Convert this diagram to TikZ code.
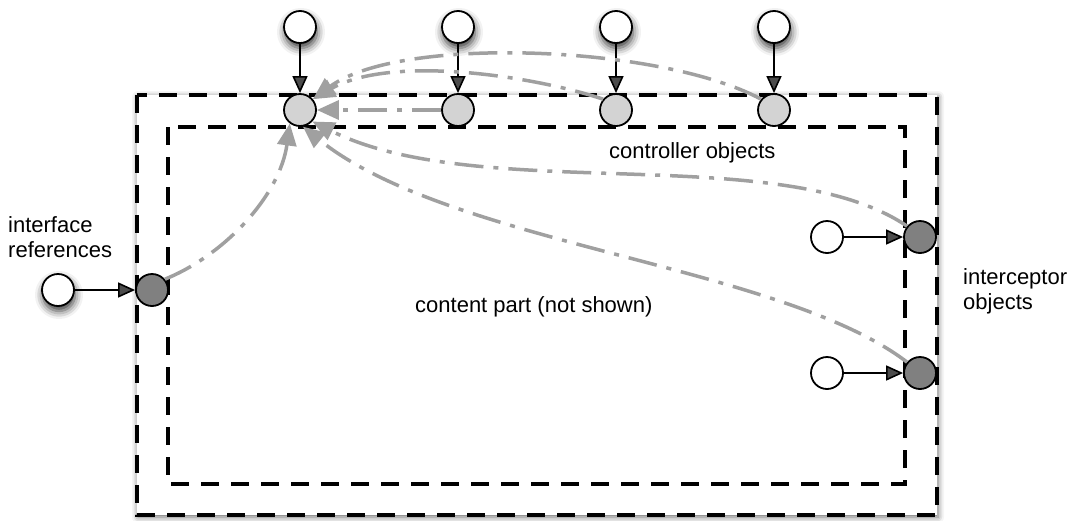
\documentclass[tikz,border=0pt]{standalone}
\usepackage{fontspec}
\setmainfont{Liberation Sans}
\usetikzlibrary{arrows.meta,shadows.blur}
\definecolor{ctrlgray}{RGB}{211,211,211}
\definecolor{icptgray}{RGB}{128,128,128}
\definecolor{linkgray}{RGB}{160,160,160}

\begin{document}
\begin{tikzpicture}[x=1pt,y=-1pt,
  ball/.style={circle,draw=black,line width=1.8pt,minimum size=32pt,inner sep=0pt},
  src/.style={ball,fill=white},
  srcshadow/.style={src,blur shadow={shadow xshift=1pt,shadow yshift=-5pt,shadow blur radius=8pt,shadow opacity=80}},
  ctrl/.style={ball,fill=ctrlgray},
  icpt/.style={ball,fill=icptgray},
  wire/.style={line width=1.6pt,-{Triangle[length=17pt,width=15pt]}},
  link/.style={draw=linkgray,line width=3.5pt,
    dash pattern=on 29pt off 10pt on 5pt off 10pt,
    -{Triangle[length=22pt,width=19pt]}},
  boxline/.style={line width=4pt,dash pattern=on 18pt off 12pt},
  lbl/.style={font=\fontsize{22}{25}\selectfont,inner sep=0pt}
]
\useasboundingbox (0,0) rectangle (1073,520);

% membrane: shadowed outer boundary and inner boundary
\path[fill=white,blur shadow={shadow xshift=1pt,shadow yshift=-2pt,shadow blur radius=6pt,shadow opacity=60}]
  (137,95) rectangle (937,515);
\draw[boxline] (137,95) rectangle (937,515);
\draw[boxline] (168,127) rectangle (905,484);

% controller objects and their external bindings
\node[srcshadow] (t1) at (300,27) {};
\node[srcshadow] (t2) at (458,27) {};
\node[srcshadow] (t3) at (616,27) {};
\node[srcshadow] (t4) at (774,27) {};
\node[ctrl] (c1) at (300,110) {};
\node[ctrl] (c2) at (458,110) {};
\node[ctrl] (c3) at (616,110) {};
\node[ctrl] (c4) at (774,110) {};

% interface reference
\node[srcshadow] (rs) at (58,290) {};
\node[icpt] (rf) at (152,290) {};

% interceptors
\node[src] (s1) at (827,237) {};
\node[icpt] (i1) at (920,237) {};
\node[src] (s2) at (827,373) {};
\node[icpt] (i2) at (920,373) {};

% labels
\node[lbl,align=left,anchor=north west] (iflbl) at (8,216) {interface\\references};
\node[lbl,align=left,anchor=north west] (iclbl) at (963,268) {interceptor\\objects};
\node[lbl,anchor=base west] (ctlbl) at (609,158) {controller objects};
\node[lbl,anchor=base west] (cplbl) at (415,312) {content part (not shown)};

% bindings
\draw[wire] (t1) -- (c1);
\draw[wire] (t2) -- (c2);
\draw[wire] (t3) -- (c3);
\draw[wire] (t4) -- (c4);
\draw[wire] (rs) -- (rf);
\draw[wire] (s1) -- (i1);
\draw[wire] (s2) -- (i2);

% control links towards the first controller
\draw[link] (rf.40) .. controls (225,255) and (280,195) .. (c1.-127);
\draw[link] (c2) -- (c1);
\draw[link] (c3.140) .. controls (530,75) and (390,55) .. (c1.40);
\draw[link] (c4.140) .. controls (660,45) and (400,35) .. (c1.40);
\draw[link] (i1.140) .. controls (780,140) and (480,205) .. (c1.-43);
\draw[link] (i2.140) .. controls (780,265) and (450,245) .. (c1.-80);
\end{tikzpicture}
\end{document}
